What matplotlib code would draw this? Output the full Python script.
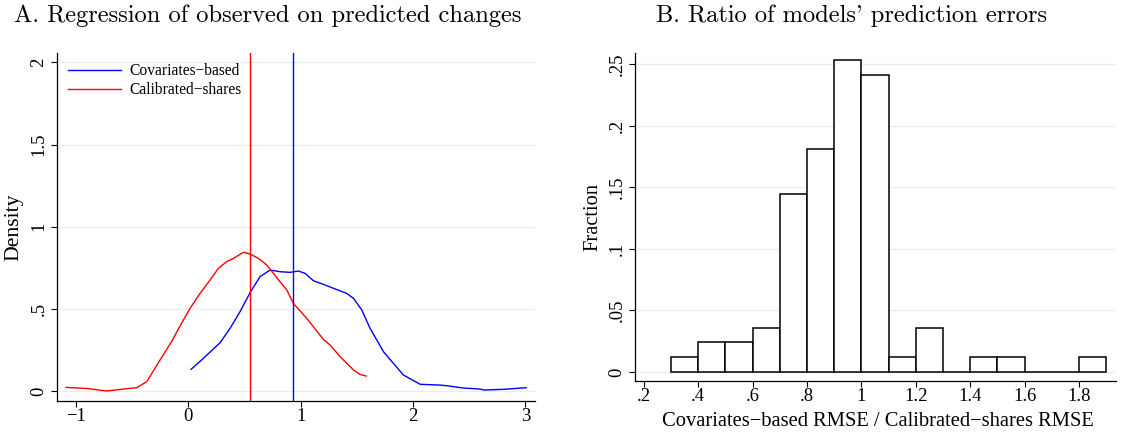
""" plot the density and ratio panels """

import numpy
import matplotlib
matplotlib.use("Agg")
import matplotlib.pyplot

PLOT = "out.png"

# panel A: kernel density of the slope
COV_X = [0.024, 0.134, 0.282, 0.371, 0.460, 0.549, 0.638, 0.728, 0.816, 0.906,
         0.980, 1.039, 1.113, 1.202, 1.291, 1.410, 1.470, 1.544, 1.618, 1.737,
         1.826, 1.915, 2.063, 2.241, 2.301, 2.450, 2.597, 2.63, 2.80, 3.007]
COV_Y = [0.132, 0.199, 0.294, 0.381, 0.483, 0.598, 0.696, 0.736, 0.726, 0.722,
         0.730, 0.716, 0.671, 0.649, 0.625, 0.594, 0.564, 0.493, 0.381, 0.239,
         0.168, 0.097, 0.041, 0.036, 0.032, 0.018, 0.012, 0.006, 0.010, 0.020]

CAL_X = [-1.089, -0.90, -0.727, -0.55, -0.46, -0.37, -0.252, -0.15, -0.074, 0.015,
         0.104, 0.193, 0.267, 0.341, 0.401, 0.490, 0.549, 0.624, 0.698, 0.816,
         0.876, 0.935, 1.054, 1.202, 1.262, 1.351, 1.470, 1.529, 1.583]
CAL_Y = [0.022, 0.015, 0.000, 0.014, 0.020, 0.057, 0.189, 0.30, 0.396, 0.503,
         0.594, 0.675, 0.746, 0.787, 0.807, 0.844, 0.834, 0.807, 0.767, 0.665,
         0.615, 0.533, 0.442, 0.314, 0.280, 0.209, 0.128, 0.101, 0.091]

# mean slopes (vertical lines)
COV_MEAN = 0.932
CAL_MEAN = 0.550

# panel B: histogram of the RMSE ratio, bins of width 0.1 from 0.3
BIN_LEFT = [0.3, 0.4, 0.5, 0.6, 0.7, 0.8, 0.9, 1.0, 1.1, 1.2, 1.3, 1.4, 1.5, 1.6, 1.7, 1.8]
BIN_COUNT = [1, 2, 2, 3, 12, 15, 21, 20, 1, 3, 0, 1, 1, 0, 0, 1]

A_XTICKS = [-1, 0, 1, 2, 3]
A_XLABELS = ["\u22121", "0", "1", "2", "3"]
A_YTICKS = [0, 0.5, 1, 1.5, 2]
A_YLABELS = ["0", ".5", "1", "1.5", "2"]

B_XTICKS = [0.2, 0.4, 0.6, 0.8, 1.0, 1.2, 1.4, 1.6, 1.8]
B_XLABELS = [".2", ".4", ".6", ".8", "1", "1.2", "1.4", "1.6", "1.8"]
B_YTICKS = [0, 0.05, 0.1, 0.15, 0.2, 0.25]
B_YLABELS = ["0", ".05", ".1", ".15", ".2", ".25"]

W, H = 1122, 446
SERIF = "Liberation Serif"
GRID = "#e6eeef"
TICKFS = 13.4
LABELFS = 14.8


def style_axes(ax):
    # stata look: left and bottom axis, light horizontal grid
    for side in ["top", "right"]:
        ax.spines[side].set_visible(False)
    for side in ["left", "bottom"]:
        ax.spines[side].set_linewidth(0.9)
    ax.set_axisbelow(True)
    ax.yaxis.grid(True, color=GRID, linewidth=1.0)
    ax.tick_params(axis="both", direction="out", length=4, width=0.8,
                   labelsize=TICKFS)
    ax.tick_params(axis="x", pad=1.5)
    ax.tick_params(axis="y", pad=3)
    for lab in ax.get_xticklabels() + ax.get_yticklabels():
        lab.set_fontfamily(SERIF)


def plot():
    fig = matplotlib.pyplot.figure(figsize=(W / 100, H / 100), dpi=100)

    # axes boxes measured in pixels
    axa = fig.add_axes([57.3 / W, 1 - 400.7 / H, 477.7 / W, 347.4 / H])
    axb = fig.add_axes([635.0 / W, 1 - 380.7 / H, 481.0 / W, 327.4 / H])

    # panel A
    l1, = axa.plot(COV_X, COV_Y, color="#0000ff", linewidth=1.0)
    l2, = axa.plot(CAL_X, CAL_Y, color="#ff0000", linewidth=1.0)
    axa.axvline(CAL_MEAN, color="#ff0000", linewidth=1.0)
    axa.axvline(COV_MEAN, color="#0000ff", linewidth=1.0)
    axa.set_xlim(-1.167, 3.086)
    axa.set_ylim(-0.059, 2.055)
    axa.set_xticks(A_XTICKS, A_XLABELS)
    axa.set_yticks(A_YTICKS, A_YLABELS, rotation=90, va="center")
    style_axes(axa)
    axa.set_ylabel("Density", fontfamily=SERIF, fontsize=LABELFS + 0.8, va="center")
    axa.yaxis.set_label_coords(-0.091, 0.5)
    axa.legend((l1, l2), ("Covariates\u2212based", "Calibrated\u2212shares"),
               loc="upper left", bbox_to_anchor=(0.023, 0.972),
               frameon=False, borderpad=0, borderaxespad=0,
               handlelength=3.38, handletextpad=0.56, labelspacing=0.2,
               prop={"family": SERIF, "size": 11.2})

    # panel B
    counts = numpy.array(BIN_COUNT, dtype=float)
    frac = counts / counts.sum()
    axb.bar(BIN_LEFT, frac, width=0.1, align="edge", color="white",
            edgecolor="black", linewidth=1.1)
    axb.set_xlim(0.168, 1.936)
    axb.set_ylim(-0.007, 0.2587)
    axb.set_xticks(B_XTICKS, B_XLABELS)
    axb.set_yticks(B_YTICKS, B_YLABELS, rotation=90, va="center")
    style_axes(axb)
    axb.set_ylabel("Fraction", fontfamily=SERIF, fontsize=LABELFS, va="center")
    axb.yaxis.set_label_coords(-0.087, 0.5)
    axb.set_xlabel("Covariates\u2212based RMSE / Calibrated\u2212shares RMSE",
                   fontfamily=SERIF, fontsize=LABELFS, va="baseline")
    axb.xaxis.set_label_coords(0.505, -0.138)

    # panel titles in computer modern
    fig.text(14.3 / W, 1 - 22.0 / H, "A. Regression of observed on predicted changes",
             fontfamily="cmr10", fontsize=17.6, ha="left", va="baseline")
    fig.text(852.0 / W, 1 - 22.0 / H, "B. Ratio of models' prediction errors",
             fontfamily="cmr10", fontsize=17.6, ha="center", va="baseline")

    fig.savefig(PLOT, dpi=100)
    matplotlib.pyplot.close(fig)


if __name__ == "__main__":
    plot()
